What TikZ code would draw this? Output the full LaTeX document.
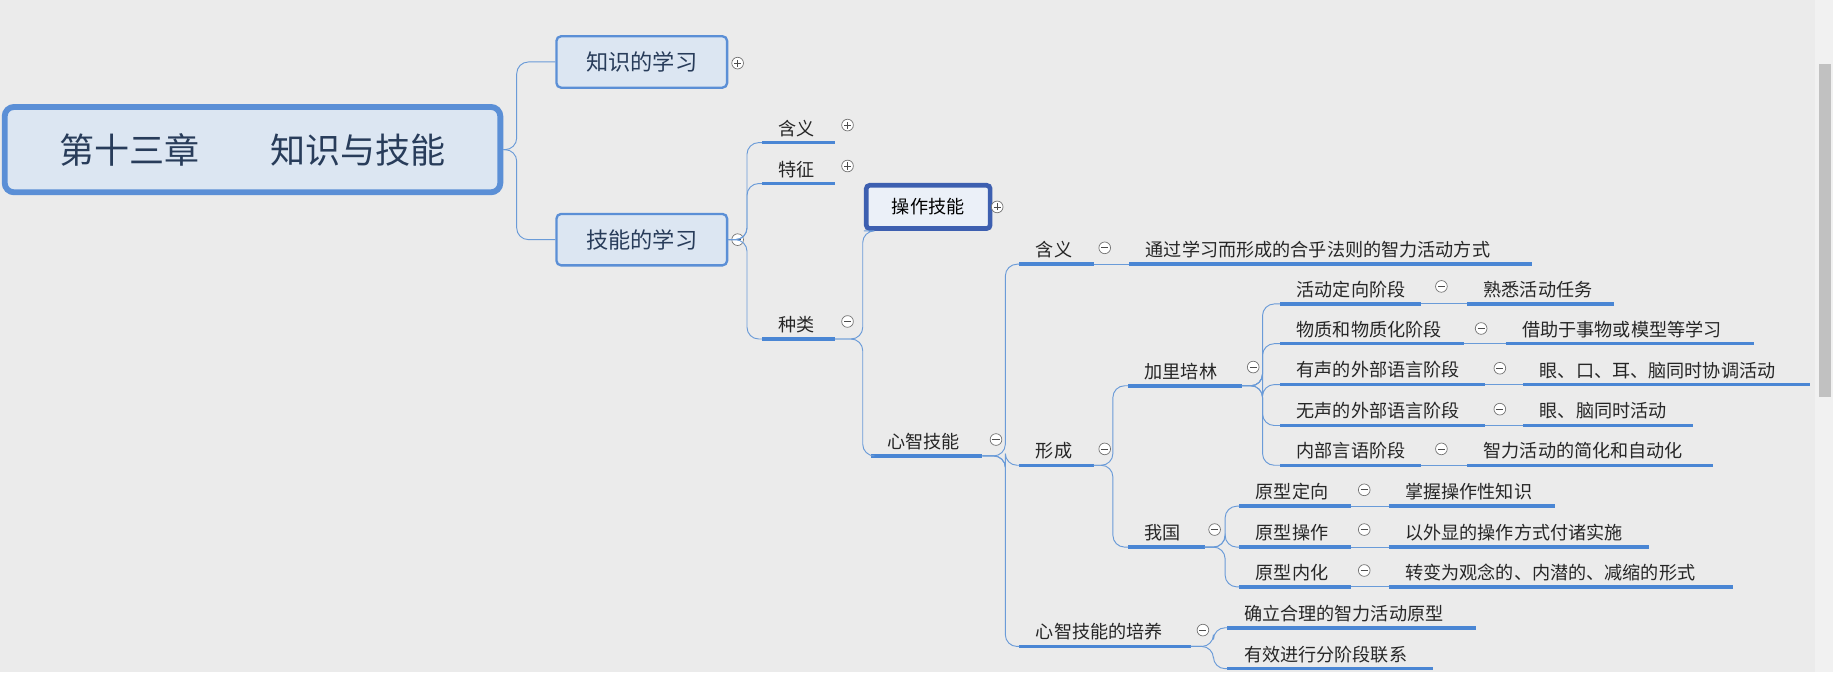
\documentclass[tikz,border=0pt]{standalone}
\usepackage{fontspec}
\setmainfont{Noto Sans CJK SC}
\definecolor{bg}{RGB}{235,235,235}
\definecolor{sbar}{RGB}{241,241,241}
\definecolor{sthumb}{RGB}{193,193,193}
\definecolor{ulc}{RGB}{74,134,212}
\definecolor{cnc}{RGB}{106,155,216}
\definecolor{boxd}{RGB}{91,143,214}
\definecolor{boxf}{RGB}{220,230,242}
\definecolor{boxt}{RGB}{40,60,90}
\definecolor{selb}{RGB}{61,95,176}
\definecolor{self}{RGB}{235,240,248}
\begin{document}
\begin{tikzpicture}[x=1pt,y=-1pt,
  lbl/.style={inner xsep=0pt,inner ysep=5pt,anchor=south west,font=\fontsize{15.5}{17}\selectfont,text=black!85,minimum height=0pt,align=left},
  uline/.style={line width=3pt,color=ulc},
  conn/.style={line width=0.8pt,color=cnc,rounded corners=10pt},
  bigbox/.style={draw=boxd,fill=boxf,rounded corners=4pt,line width=2pt,font=\fontsize{19}{21}\selectfont,text=boxt},
  cbase/.style={circle,draw=black!55,fill=white,minimum size=10pt,inner sep=0pt,line width=0.6pt},
  mn/.style={cbase,path picture={\draw[black!70,line width=0.6pt] ([xshift=-3pt]path picture bounding box.center)--([xshift=3pt]path picture bounding box.center);}},
  pl/.style={cbase,path picture={\draw[black!70,line width=0.6pt] ([xshift=-3pt]path picture bounding box.center)--([xshift=3pt]path picture bounding box.center) ([yshift=-3pt]path picture bounding box.center)--([yshift=3pt]path picture bounding box.center);}}
]
\def\leaf#1#2#3#4#5{\node[lbl,text width={#3-#2}] (#1) at (#2,#4) {\hspace*{14pt}#5};\draw[uline] (#1.south west)--(#1.south east);}
\fill[bg] (0,0) rectangle (1568,575);
\fill[sbar] (1553,0) rectangle (1568,575);
\fill[sthumb] (1556,55) rectangle (1566,340);

% root and boxes
\node[bigbox,line width=5pt,rounded corners=8pt,minimum width=424pt,minimum height=73pt,font=\fontsize{30}{34}\selectfont] (root) at (216,128) {第十三章\quad\quad 知识与技能};
\node[bigbox,minimum width=146pt,minimum height=44pt] (zs) at (549,53) {知识的学习};
\node[bigbox,minimum width=146pt,minimum height=44pt] (jn) at (549,205) {技能的学习};
\node[pl] at (631,54) {};
\node[mn] at (631,205) {};
\draw[conn] (root.east) -- (442,128) |- (zs.west);
\draw[conn] (root.east) -- (442,128) |- (jn.west);

% level 2
\leaf{hy}{652}{714}{122}{含义}
\leaf{tz}{652}{714}{157}{特征}
\leaf{zl}{652}{714}{290}{种类}
\node[pl] at (725,107) {};
\node[pl] at (725,142) {};
\node[mn] at (725,275) {};
\foreach \c in {hy,tz,zl} \draw[conn] (jn.east) -- (639,205) |- (\c.south west);

% level 3
\node[draw=selb,line width=4pt,fill=self,rounded corners=3pt,minimum width=106pt,minimum height=37pt,font=\fontsize{15.5}{17}\selectfont] (cz) at (794,177) {操作技能};
\node[pl] at (853,177) {};
\leaf{xz}{745}{840}{390}{心智技能}
\node[mn] at (852,376) {};
\draw[conn] (zl.south east) -- (738,290) |- (cz.south west);
\draw[conn] (zl.south east) -- (738,290) |- (xz.south west);

% level 4
\leaf{hy2}{872}{935}{226}{含义}
\leaf{xc}{872}{935}{398}{形成}
\leaf{py}{872}{1018}{553}{心智技能的培养}
\node[mn] at (945,212) {};
\node[mn] at (945,384) {};
\node[mn] at (1029,539) {};
\foreach \c in {hy2,xc,py} \draw[conn] (xz.south east) -- (860,390) |- (\c.south west);
\leaf{tg}{966}{1310}{226}{通过学习而形成的合乎法则的智力活动方式}
\draw[conn] (hy2.south east) -- (tg.south west);

\leaf{qd}{1050}{1262}{537}{确立合理的智力活动原型}
\leaf{yx}{1050}{1225}{572}{有效进行分阶段联系}
\foreach \c in {qd,yx} \draw[conn] (py.south east) -- (1038,553) |- (\c.south west);

% 形成
\leaf{jl}{965}{1062}{330}{加里培林}
\leaf{wg}{965}{1030}{468}{我国}
\node[mn] at (1072,314) {};
\node[mn] at (1039,453) {};
\foreach \c in {jl,wg} \draw[conn] (xc.south east) -- (952,398) |- (\c.south west);

% 加里培林
\leaf{a1}{1095}{1215}{260}{活动定向阶段}
\leaf{a2}{1095}{1252}{294}{物质和物质化阶段}
\leaf{a3}{1095}{1270}{329}{有声的外部语言阶段}
\leaf{a4}{1095}{1270}{364}{无声的外部语言阶段}
\leaf{a5}{1095}{1215}{398}{内部言语阶段}
\node[mn] at (1233,245) {};
\node[mn] at (1267,281) {};
\node[mn] at (1283,315) {};
\node[mn] at (1283,350) {};
\node[mn] at (1233,384) {};
\foreach \c in {a1,a2,a3,a4,a5} \draw[conn] (jl.south east) -- (1080,330) |- (\c.south west);
\leaf{b1}{1255}{1380}{260}{熟悉活动任务}
\leaf{b2}{1288}{1500}{294}{借助于事物或模型等学习}
\leaf{b3}{1303}{1548}{329}{眼、口、耳、脑同时协调活动}
\leaf{b4}{1303}{1448}{364}{眼、脑同时活动}
\leaf{b5}{1255}{1465}{398}{智力活动的简化和自动化}
\foreach \i in {1,...,5} \draw[conn] (a\i.south east) -- (b\i.south west);

% 我国
\leaf{c1}{1060}{1155}{433}{原型定向}
\leaf{c2}{1060}{1155}{468}{原型操作}
\leaf{c3}{1060}{1155}{502}{原型内化}
\node[mn] at (1167,419) {};
\node[mn] at (1167,453) {};
\node[mn] at (1167,488) {};
\foreach \c in {c1,c2,c3} \draw[conn] (wg.south east) -- (1048,468) |- (\c.south west);
\leaf{d1}{1188}{1330}{433}{掌握操作性知识}
\leaf{d2}{1188}{1410}{468}{以外显的操作方式付诸实施}
\leaf{d3}{1188}{1482}{502}{转变为观念的、内潜的、减缩的形式}
\foreach \i in {1,2,3} \draw[conn] (c\i.south east) -- (d\i.south west);
\end{tikzpicture}
\end{document}
